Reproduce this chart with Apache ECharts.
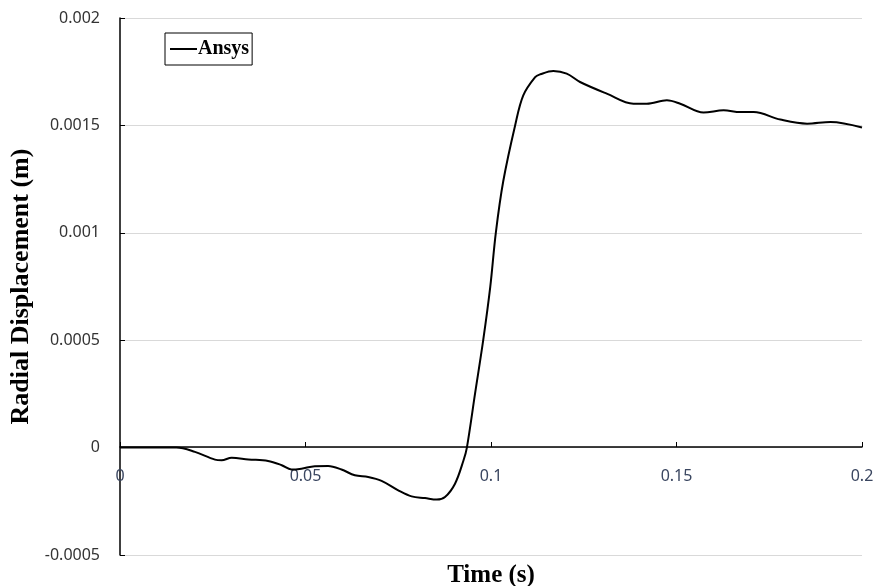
<!DOCTYPE html>
<html>
<head>
<meta charset="utf-8">
<script src="https://cdn.jsdelivr.net/npm/echarts@6/dist/echarts.min.js"></script>
<style>
  html, body { margin: 0; padding: 0; background: #fff; }
  #chart { width: 875px; height: 586px; }
</style>
</head>
<body>
<div id="chart"></div>
<script>
// time (s)
var times = [0, 0.005, 0.010, 0.0152, 0.0202, 0.0256, 0.0274, 0.0301, 0.0346, 0.0399,
  0.0436, 0.0462, 0.0489, 0.0525, 0.0561, 0.0597, 0.0633, 0.0669, 0.0705, 0.0750,
  0.0786, 0.0822, 0.0854, 0.0876, 0.0903, 0.0926, 0.0935, 0.0957, 0.0979,
  0.0998, 0.1013, 0.1033, 0.1065, 0.1087, 0.1119, 0.1133, 0.1168, 0.1204,
  0.124, 0.1312, 0.1384, 0.142, 0.1474, 0.151, 0.1573, 0.1627, 0.1672, 0.1708,
  0.178, 0.1852, 0.1915, 0.2];
// radial displacement (m)
var ansys = [0, 0, 0, 0, -0.00002, -0.000056, -0.000059, -0.000047, -0.000055, -0.000062,
  -0.000082, -0.000102, -0.000098, -0.000087, -0.000086, -0.000102, -0.000129, -0.000137, -0.000155, -0.000199,
  -0.000227, -0.000235, -0.000242, -0.00023, -0.000168, -0.000059, 0, 0.000251, 0.0005,
  0.000748, 0.001, 0.00124, 0.0015, 0.00164, 0.001725, 0.001738, 0.001753, 0.001741,
  0.001702, 0.001648, 0.001601, 0.001601, 0.001617, 0.001601, 0.00156, 0.00157, 0.001562, 0.001562,
  0.001527, 0.001508, 0.001516, 0.00149];

var chart = echarts.init(document.getElementById('chart'));

var points = times.map(function (t, i) { return [t, ansys[i]]; });

var option = {
  backgroundColor: '#fff',
  animation: false,
  grid: { left: 120, right: 13, top: 18, bottom: 31, containLabel: false, outerBoundsMode: 'none' },
  legend: {
    left: 165,
    top: 33,
    data: ['Ansys'],
    icon: 'rect',
    itemWidth: 27,
    itemHeight: 2,
    itemGap: 2,
    padding: [6, 3, 6, 5],
    borderColor: '#000',
    borderWidth: 1,
    backgroundColor: '#fff',
    textStyle: { fontFamily: 'Liberation Serif', fontWeight: 'bold', fontSize: 20, color: '#000', padding: [0, 0, 0, -4] }
  },
  xAxis: {
    type: 'value',
    min: 0,
    max: 0.2,
    interval: 0.05,
    offset: -108,
    name: 'Time (s)',
    nameLocation: 'middle',
    nameGap: 116,
    nameTextStyle: { fontFamily: 'Liberation Serif', fontWeight: 'bold', fontSize: 25, color: '#000' },
    axisLine: { show: true, onZero: false, lineStyle: { color: '#000', width: 1.5 } },
    axisTick: { show: true, inside: true, length: 5, lineStyle: { color: '#000' } },
    axisLabel: { margin: 21, fontFamily: 'Noto Sans', fontSize: 16, color: '#3a4660' },
    splitLine: { show: false }
  },
  yAxis: {
    type: 'value',
    min: -0.0005,
    max: 0.002,
    interval: 0.0005,
    name: 'Radial Displacement (m)',
    nameLocation: 'middle',
    nameGap: 78,
    nameTextStyle: { fontFamily: 'Liberation Serif', fontWeight: 'bold', fontSize: 26, color: '#000' },
    axisLine: { show: true, onZero: false, lineStyle: { color: '#000', width: 1.5 } },
    axisTick: { show: true, inside: true, length: 5, lineStyle: { color: '#000' } },
    axisLabel: { margin: 20, fontFamily: 'Noto Sans', fontSize: 16, color: '#333' },
    splitLine: { show: true, lineStyle: { color: '#d9d9d9', width: 1 } }
  },
  series: [{
    name: 'Ansys',
    type: 'line',
    data: points,
    smooth: 0.35,
    showSymbol: false,
    lineStyle: { color: '#000', width: 2 },
    itemStyle: { color: '#000' }
  }]
};

chart.setOption(option);
</script>
</body>
</html>
